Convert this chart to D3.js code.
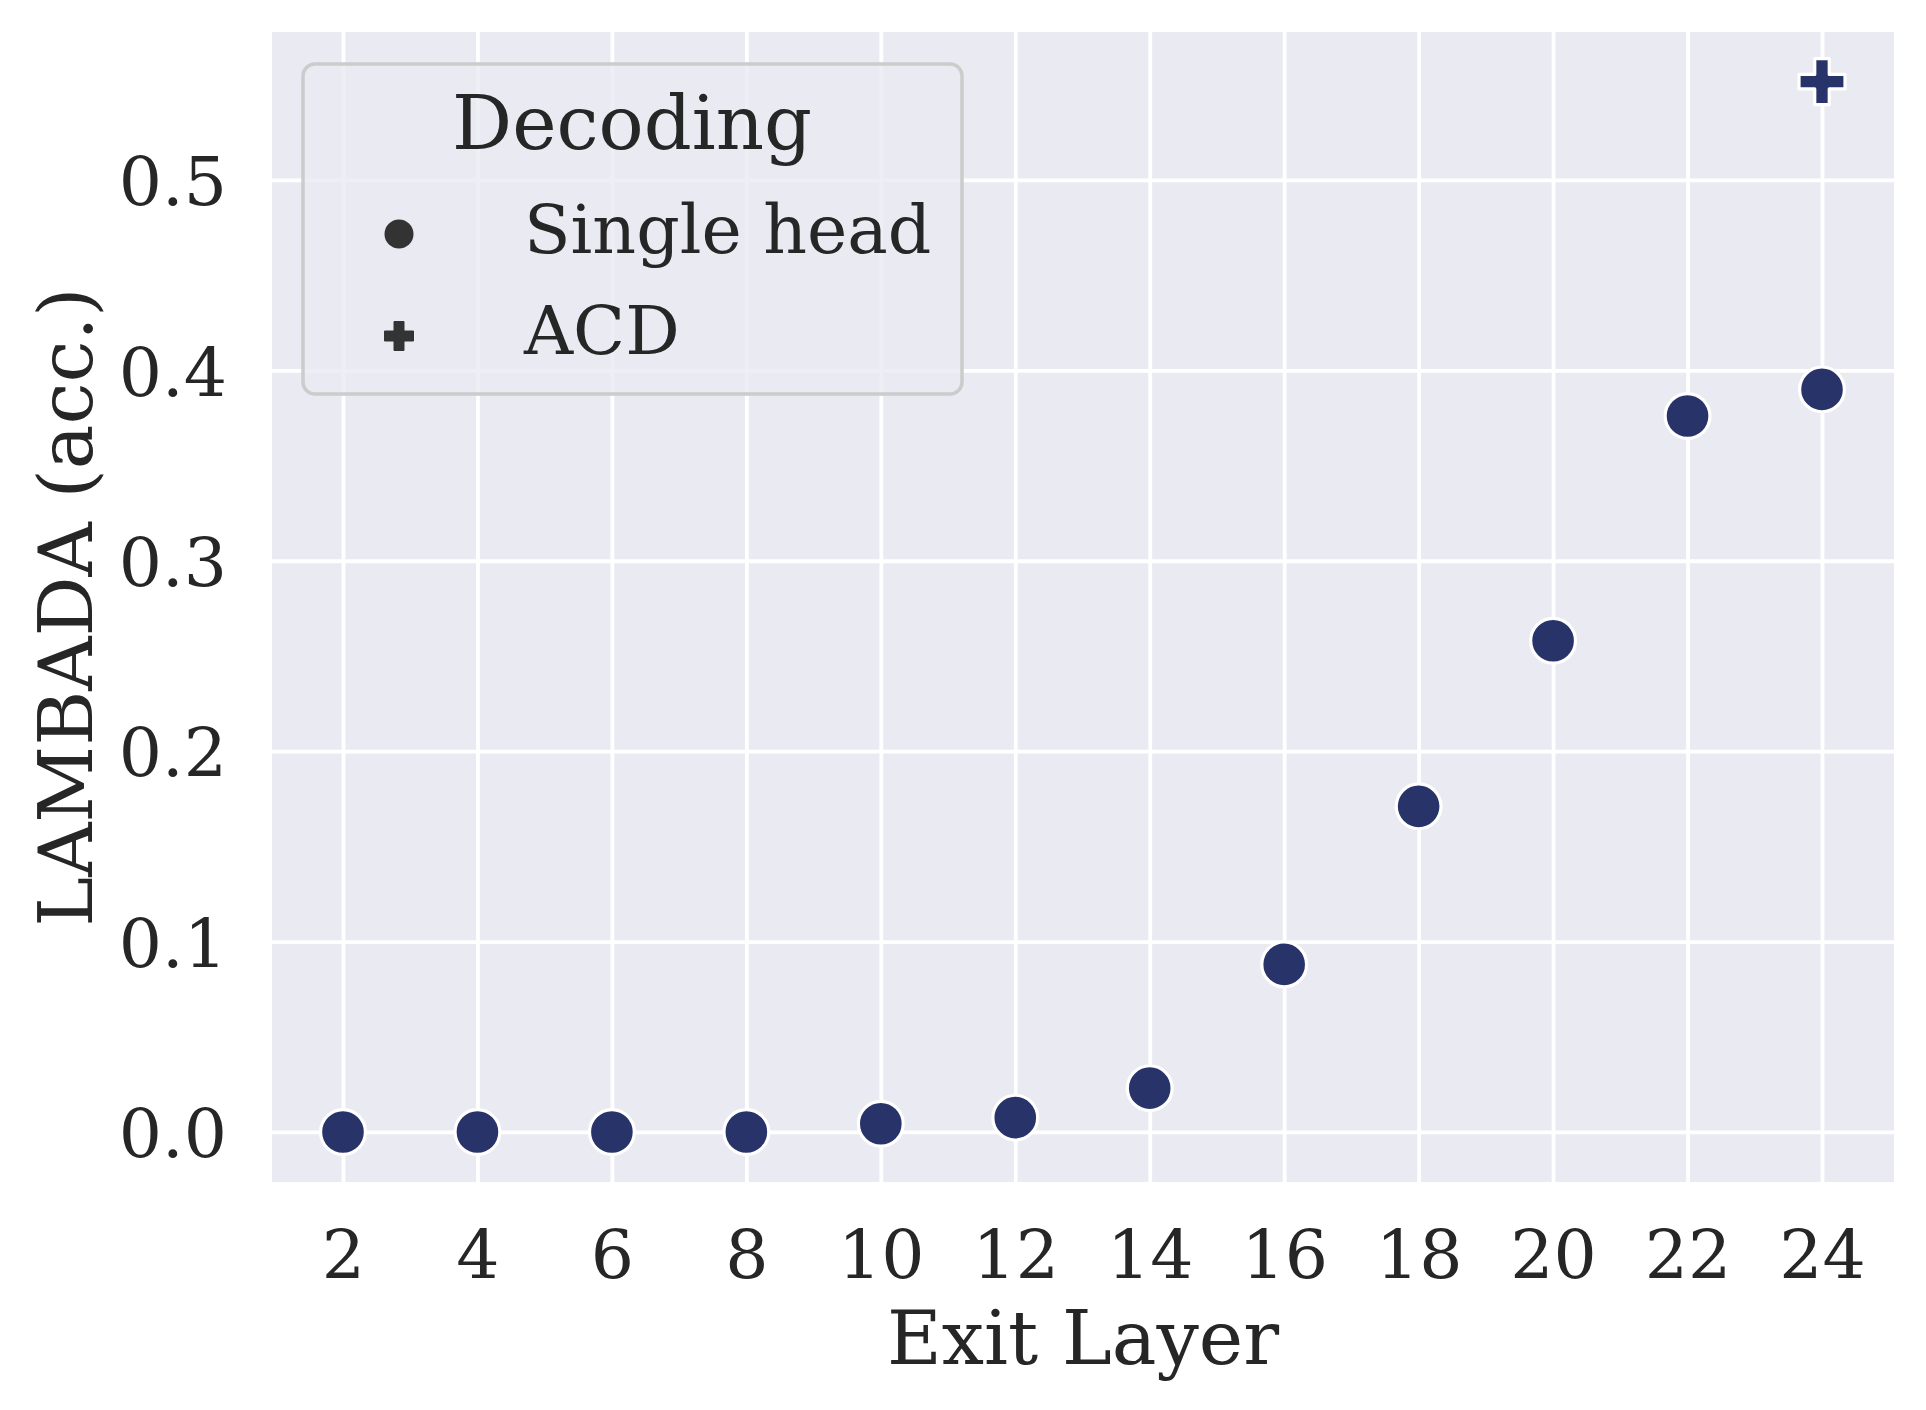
<!DOCTYPE html>
<html>
<head>
<meta charset="utf-8">
<script src="https://cdn.jsdelivr.net/npm/d3@7"></script>
<style>
  html, body { margin: 0; padding: 0; background: #ffffff; }
  svg { display: block; }
  text { font-family: "DejaVu Serif", serif; fill: #262626; }
</style>
</head>
<body>
<svg id="chart" width="1926" height="1410"></svg>
<script>
// ---- data ----
const exitLayers = [2, 4, 6, 8, 10, 12, 14, 16, 18, 20, 22, 24];
const singleHead = [0.0, 0.0, 0.0, 0.0, 0.0043, 0.0075, 0.023, 0.088, 0.171, 0.258, 0.376, 0.390];
const acdLayers = [24];
const acdValues = [0.5516];
const xTicks = [2, 4, 6, 8, 10, 12, 14, 16, 18, 20, 22, 24];
const yTicks = [0.0, 0.1, 0.2, 0.3, 0.4, 0.5];
const legendTitle = "Decoding";
const legendLabels = ["Single head", "ACD"];
const xLabel = "Exit Layer";
const yLabel = "LAMBADA (acc.)";

// ---- layout ----
const plot = { left: 272, right: 1894, top: 32, bottom: 1182 };
const tickFont = 68;
const labelFont = 75;
const pointColor = "#28336a";
const bg = "#EAEAF2";

const svg = d3.select("#chart");

const x = d3.scaleLinear().domain([0.944, 25.071]).range([plot.left, plot.right]);
const y = d3.scaleLinear().domain([-0.0263, 0.5777]).range([plot.bottom, plot.top]);

// background
svg.append("rect")
  .attr("x", plot.left).attr("y", plot.top)
  .attr("width", plot.right - plot.left).attr("height", plot.bottom - plot.top)
  .attr("fill", bg);

// grid lines via axes
const gx = svg.append("g")
  .attr("transform", `translate(0,${plot.bottom})`)
  .call(d3.axisBottom(x).tickValues(xTicks).tickSize(-(plot.bottom - plot.top)).tickFormat(d => d).tickPadding(0));
gx.select(".domain").remove();
gx.selectAll(".tick line").attr("stroke", "#ffffff").attr("stroke-width", 3.8);
gx.selectAll(".tick text")
  .attr("y", 1278 - plot.bottom).attr("dy", null)
  .style("font-family", '"DejaVu Serif", serif')
  .style("font-size", tickFont + "px")
  .attr("fill", "#262626");

const gy = svg.append("g")
  .attr("transform", `translate(${plot.left},0)`)
  .call(d3.axisLeft(y).tickValues(yTicks).tickSize(-(plot.right - plot.left)).tickFormat(d3.format(".1f")).tickPadding(0));
gy.select(".domain").remove();
gy.selectAll(".tick line").attr("stroke", "#ffffff").attr("stroke-width", 3.8);
gy.selectAll(".tick text")
  .attr("x", 227 - plot.left).attr("dy", (0.3645 * tickFont) + "px")
  .attr("text-anchor", "end")
  .style("font-family", '"DejaVu Serif", serif')
  .style("font-size", tickFont + "px")
  .attr("fill", "#262626");

// plus marker path generator (total length L, arm width a), centered
function plusPath(L, a) {
  const h = L / 2, w = a / 2;
  return `M${-w},${-h}L${w},${-h}L${w},${-w}L${h},${-w}L${h},${w}L${w},${w}L${w},${h}L${-w},${h}L${-w},${w}L${-h},${w}L${-h},${-w}L${-w},${-w}Z`;
}

// points: single head
svg.append("g").selectAll("circle")
  .data(exitLayers.map((l, i) => ({ l, v: singleHead[i] })))
  .join("circle")
  .attr("cx", d => x(d.l)).attr("cy", d => y(d.v))
  .attr("r", 22.4)
  .attr("fill", pointColor)
  .attr("stroke", "#ffffff").attr("stroke-width", 3.2);

// points: ACD
svg.append("g").selectAll("path")
  .data(acdLayers.map((l, i) => ({ l, v: acdValues[i] })))
  .join("path")
  .attr("transform", d => `translate(${x(d.l)},${y(d.v)})`)
  .attr("d", plusPath(46, 14.5))
  .attr("fill", pointColor)
  .attr("stroke", "#ffffff").attr("stroke-width", 3.2)
  .attr("stroke-linejoin", "round");

// axis labels
svg.append("text")
  .attr("x", (plot.left + plot.right) / 2).attr("y", 1364)
  .attr("text-anchor", "middle")
  .style("font-size", labelFont + "px")
  .text(xLabel);

svg.append("text")
  .attr("transform", `translate(92,${(plot.top + plot.bottom) / 2}) rotate(-90)`)
  .attr("text-anchor", "middle")
  .style("font-size", labelFont + "px")
  .text(yLabel);

// legend
const lg = svg.append("g");
lg.append("rect")
  .attr("x", 303).attr("y", 64).attr("width", 659).attr("height", 330)
  .attr("rx", 12).attr("ry", 12)
  .attr("fill", "rgba(234,234,242,0.8)")
  .attr("stroke", "#cccccc").attr("stroke-width", 3.5);
lg.append("text")
  .attr("x", 632).attr("y", 149)
  .attr("text-anchor", "middle")
  .style("font-size", labelFont + "px")
  .text(legendTitle);
const entryY = [234, 336];
const entryBaseline = [253, 354];
lg.append("circle").attr("cx", 399).attr("cy", entryY[0]).attr("r", 14.5).attr("fill", "#333333");
lg.append("path")
  .attr("transform", `translate(399,${entryY[1]})`)
  .attr("d", plusPath(29, 10))
  .attr("fill", "#333333")
  .attr("stroke", "#333333").attr("stroke-width", 1).attr("stroke-linejoin", "round");
lg.selectAll("text.entry")
  .data(legendLabels)
  .join("text")
  .attr("class", "entry")
  .attr("x", 524).attr("y", (d, i) => entryBaseline[i])
  .style("font-size", tickFont + "px")
  .text(d => d);
</script>
</body>
</html>
